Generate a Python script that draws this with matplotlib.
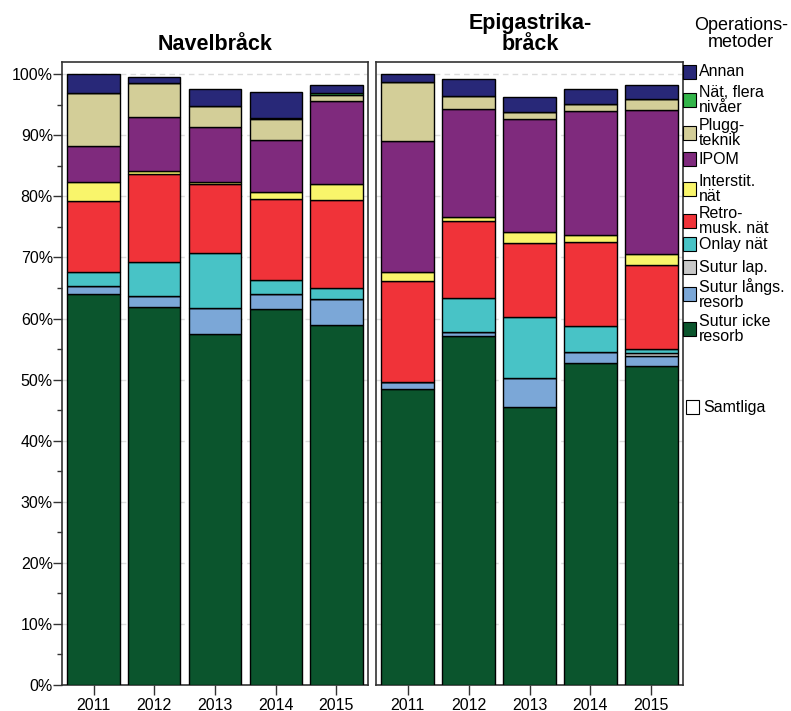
import numpy as np
import matplotlib.pyplot as plt
from matplotlib.patches import Rectangle

plt.rcParams['font.family'] = ['Liberation Sans', 'DejaVu Sans']

years = ['2011', '2012', '2013', '2014', '2015']

# segment values in %, stacked from the bottom up
metoder = ['Sutur icke\nresorb', 'Sutur långs.\nresorb', 'Sutur lap.', 'Onlay nät',
           'Retro-\nmusk. nät', 'Interstit.\nnät', 'IPOM', 'Plugg-\nteknik',
           'Nät, flera\nnivåer', 'Annan']
farger = ['#0b552d', '#7ba7d7', '#c8c8c8', '#48c3c6', '#f03339',
          '#f9f56b', '#7f2a7d', '#d3ce98', '#33b54a', '#282878']

navel_sutur_icke = [64.0, 61.9, 57.5, 61.6, 59.0]
navel_sutur_langs = [1.4, 1.8, 4.3, 2.4, 4.2]
navel_sutur_lap = [0.0, 0.0, 0.0, 0.0, 0.0]
navel_onlay = [2.2, 5.6, 8.9, 2.3, 1.8]
navel_retro = [11.6, 14.3, 11.3, 13.2, 14.4]
navel_interstit = [3.1, 0.6, 0.4, 1.2, 2.6]
navel_ipom = [5.9, 8.8, 8.9, 8.5, 13.6]
navel_plugg = [8.7, 5.5, 3.5, 3.5, 1.0]
navel_nat_flera = [0.0, 0.0, 0.0, 0.2, 0.3]
navel_annan = [3.1, 1.0, 2.8, 4.2, 1.4]

epi_sutur_icke = [48.4, 57.1, 45.5, 52.7, 52.2]
epi_sutur_langs = [1.2, 0.7, 4.8, 1.9, 1.7]
epi_sutur_lap = [0.0, 0.0, 0.0, 0.0, 0.5]
epi_onlay = [0.0, 5.6, 9.9, 4.1, 0.6]
epi_retro = [16.6, 12.6, 12.1, 13.8, 13.8]
epi_interstit = [1.4, 0.7, 1.8, 1.2, 1.7]
epi_ipom = [21.5, 17.6, 18.5, 20.3, 23.6]
epi_plugg = [9.6, 2.1, 1.2, 1.1, 1.8]
epi_nat_flera = [0.0, 0.0, 0.0, 0.0, 0.0]
epi_annan = [1.3, 2.8, 2.4, 2.4, 2.3]

navel = [navel_sutur_icke, navel_sutur_langs, navel_sutur_lap, navel_onlay, navel_retro,
         navel_interstit, navel_ipom, navel_plugg, navel_nat_flera, navel_annan]
epi = [epi_sutur_icke, epi_sutur_langs, epi_sutur_lap, epi_onlay, epi_retro,
       epi_interstit, epi_ipom, epi_plugg, epi_nat_flera, epi_annan]

W, H = 791, 711
fig = plt.figure(figsize=(W / 100, H / 100), dpi=100)

def px_axes(x0, x1, y0, y1):
    return fig.add_axes([x0 / W, 1 - y1 / H, (x1 - x0) / W, (y1 - y0) / H])

ax1 = px_axes(62, 368, 62, 685)
ax2 = px_axes(376, 683, 62, 685)

def rita(ax, data):
    x = np.arange(len(years))
    bottom = np.zeros(len(years))
    for vals, c in zip(data, farger):
        vals = np.array(vals)
        ax.bar(x, vals, width=0.86, bottom=bottom, color=c, edgecolor='black',
               linewidth=1.0, zorder=3)
        bottom += vals
    ax.set_xlim(-0.52, 4.52)
    ax.set_ylim(0, 102)
    ax.set_yticks(np.arange(0, 101, 10))
    ax.set_yticks(np.arange(5, 100, 10), minor=True)
    for y in range(10, 101, 10):
        ax.axhline(y, color='#dcdcdc', lw=1, ls=(0, (4, 3)), zorder=1)
    ax.set_xticks(x)
    ax.set_xticklabels(years, fontsize=11.5)
    ax.tick_params(axis='x', length=7, width=1, color='#333333', pad=2)
    for s in ax.spines.values():
        s.set_color('#333333')
        s.set_linewidth(1.2)

rita(ax1, navel)
rita(ax2, epi)

ax1.set_yticklabels([f'{v}%' for v in range(0, 101, 10)], fontsize=11.5)
ax1.tick_params(axis='y', which='major', length=6.5, width=1, color='#333333', pad=0)
ax1.tick_params(axis='y', which='minor', length=3.5, width=1, color='#333333')
ax2.tick_params(axis='y', which='both', left=False, labelleft=False)

fig.text(215 / W, 1 - 44 / H, 'Navelbråck', ha='center', va='center',
         fontsize=15.5, fontweight='bold')
fig.text(530 / W, 1 - 34 / H, 'Epigastrika-\nbråck', ha='center', va='center',
         fontsize=15.5, fontweight='bold', linespacing=0.98)

# legend
fig.text(741 / W, 1 - 34 / H, 'Operations-\nmetoder', ha='center', va='center',
         fontsize=13, linespacing=0.95)

leg_mid = [329, 294, 267, 244, 221, 189, 159, 133, 100, 72]
for namn, c, y in zip(metoder, farger, leg_mid):
    fig.patches.append(Rectangle((683 / W, 1 - (y + 7) / H), 13 / W, 14 / H,
                                 facecolor=c, edgecolor='black', lw=0.8,
                                 transform=fig.transFigure, figure=fig))
    fig.text(699 / W, 1 - y / H, namn, ha='left', va='center',
             fontsize=11.5, linespacing=0.93)

fig.patches.append(Rectangle((686 / W, 1 - 414 / H), 13 / W, 14 / H,
                             facecolor='white', edgecolor='black', lw=0.8,
                             transform=fig.transFigure, figure=fig))
fig.text(703 / W, 1 - 407 / H, 'Samtliga', ha='left', va='center', fontsize=11.5)

fig.savefig('out.png', dpi=100)
